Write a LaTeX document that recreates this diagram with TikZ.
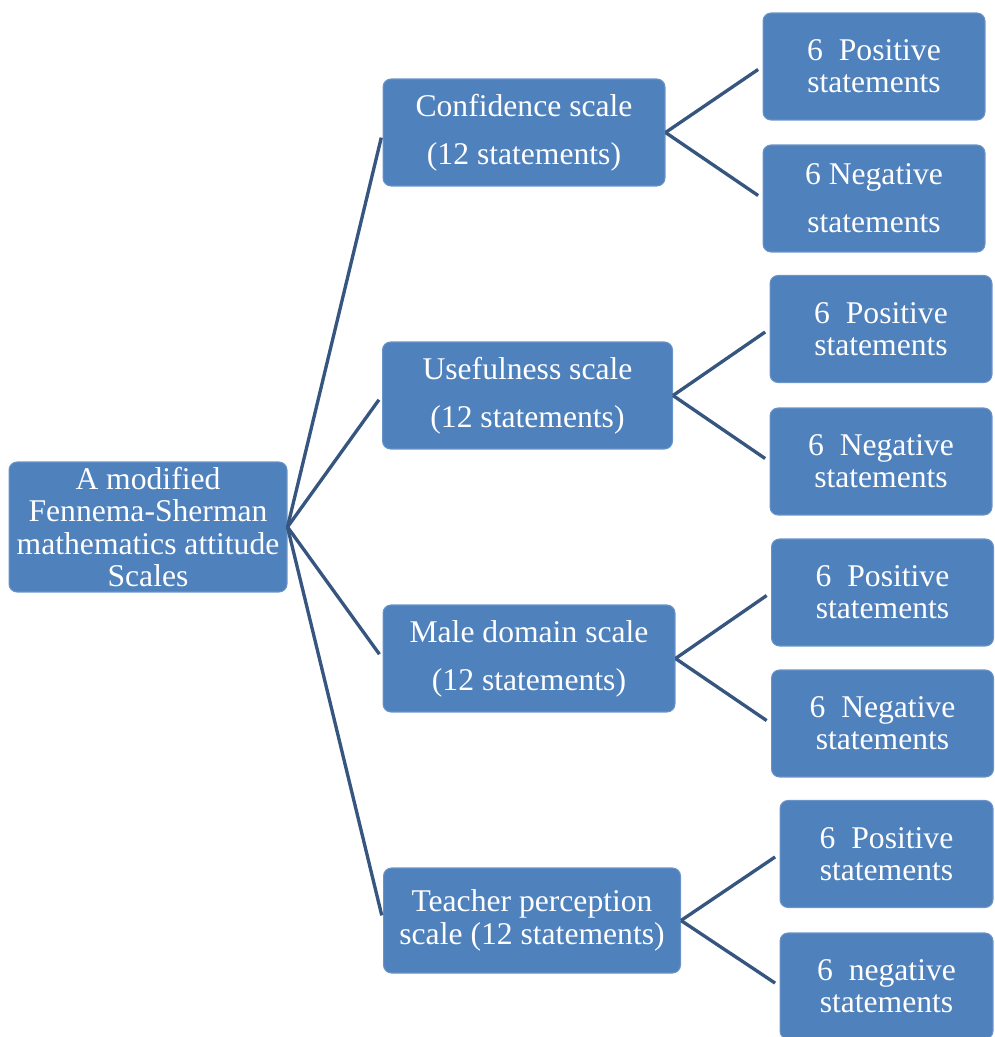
\documentclass[tikz,border=0pt]{standalone}
\usepackage{fontspec}
\setmainfont{Liberation Serif}
\usepackage{xcolor}
\usepackage{tikz}
\usetikzlibrary{calc}
\usetikzlibrary{positioning}

\definecolor{boxblue}{RGB}{79,129,189}
\definecolor{linkblue}{RGB}{54,86,128}

\tikzset{
	scalebox/.style={draw=boxblue!85!white,line width=0.6pt,fill=boxblue,rounded corners=0.16cm,
		text=white,align=center,inner sep=0pt,font=\fontsize{18}{18.4}\selectfont},
	loose/.style={font=\fontsize{18}{27.3}\selectfont},
	midbox/.style={scalebox,minimum width=5.8cm,minimum height=2.14cm},
	endbox/.style={scalebox,minimum width=4.44cm,minimum height=2.14cm},
	link/.style={linkblue,line width=1.9pt,shorten >=3pt},
}

\begin{document}
\begin{tikzpicture}[x=0.02cm,y=-0.02cm]
		\useasboundingbox (0,0) rectangle (994,1037);
		\node[scalebox,minimum width=5.56cm,minimum height=2.6cm] (root) at (148,527) {A modified\\Fennema-Sherman\\mathematics attitude\\Scales};
		\node[midbox,loose,minimum width=5.64cm] (conf) at (524,132.5) {Confidence scale\\(12 statements)};
		\node[midbox,loose] (use) at (527.5,395.5) {Usefulness scale\\(12 statements)};
		\node[midbox,loose,minimum width=5.84cm] (male) at (529,658.5) {Male domain scale\\(12 statements)};
		\node[midbox,minimum width=5.94cm,minimum height=2.1cm] (teach) at (532,920.5) {Teacher perception\\scale (12 statements)};
		\node[endbox] (confpos) at (874,66.5) {6~~Positive\\statements};
		\node[endbox,loose] (confneg) at (874,198.5) {6 Negative\\statements};
		\node[endbox] (usepos) at (881,329) {6~~Positive\\statements};
		\node[endbox] (useneg) at (881,461.5) {6~~Negative\\statements};
		\node[endbox] (malepos) at (882.5,592.5) {6~~Positive\\statements};
		\node[endbox] (maleneg) at (882.5,723.5) {6~~Negative\\statements};
		\node[endbox,minimum width=4.26cm] (teachpos) at (886.5,854) {6~~Positive\\statements};
		\node[endbox,minimum width=4.26cm,minimum height=2.12cm] (teachneg) at (886.5,986) {6~~negative\\statements};
		\draw[link] (root.east) -- (conf.west);
		\draw[link] (root.east) -- (use.west);
		\draw[link] (root.east) -- (male.west);
		\draw[link] (root.east) -- (teach.west);
		\draw[link] (conf.east) -- (confpos.west);
		\draw[link] (conf.east) -- (confneg.west);
		\draw[link] (use.east) -- (usepos.west);
		\draw[link] (use.east) -- (useneg.west);
		\draw[link] (male.east) -- (malepos.west);
		\draw[link] (male.east) -- (maleneg.west);
		\draw[link] (teach.east) -- (teachpos.west);
		\draw[link] (teach.east) -- (teachneg.west);
	\end{tikzpicture}
\end{document}
